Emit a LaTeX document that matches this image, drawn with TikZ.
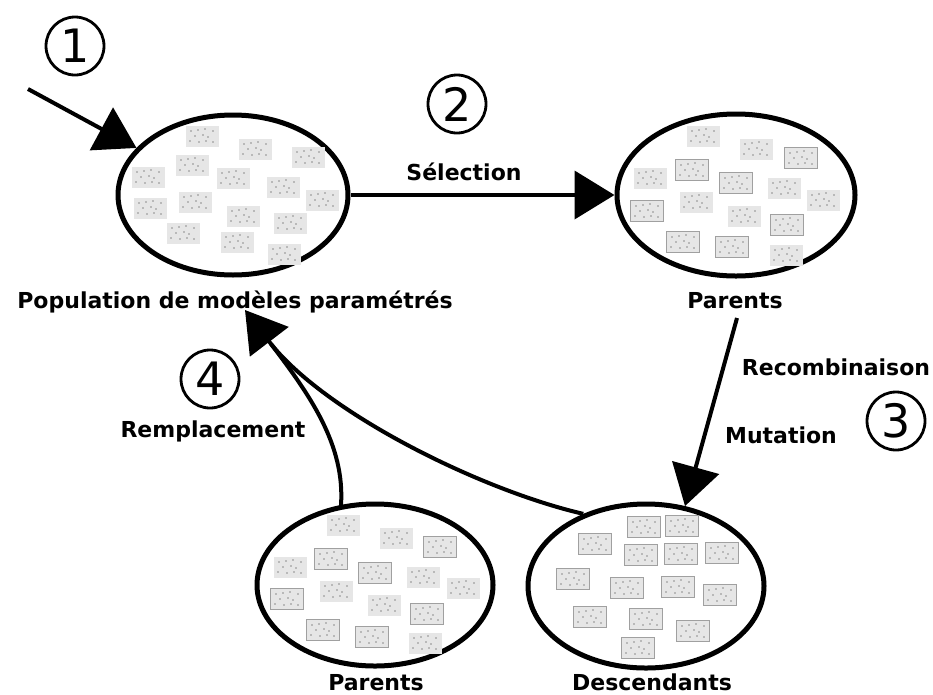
\documentclass[tikz,border=0pt]{standalone}
\usepackage{fontspec}
\setmainfont{DejaVu Sans}
\usetikzlibrary{shapes.geometric,arrows.meta}
\definecolor{cardfill}{HTML}{E6E6E6}
\definecolor{cardline}{HTML}{A0A0A0}
\definecolor{carddot}{HTML}{8C8C8C}
\begin{document}
\begin{tikzpicture}[x=1pt,y=-1pt,
 pool/.style={ellipse, draw, line width=5pt, inner sep=0pt},
 lab/.style={font=\bfseries\fontsize{22}{26}\selectfont, inner sep=0pt, anchor=base},
 numc/.style={circle, draw, line width=2.8pt, minimum size=58pt, inner sep=0pt, font=\fontsize{46}{46}\selectfont},
 flow/.style={line width=4pt, -{Triangle[length=40pt,width=48pt]}},
 plain/.style={line width=4pt},
 carddots/.pic={\foreach \p in {(-11,-5),(-4,-6),(3,-7),(11,-5),(-7,0),(1,-1),(6,1),(-12,5),(-3,6),(4,5),(11,6)} \fill[carddot] \p circle (0.8);},
 card/.pic={\fill[cardfill] (-16.5,-10.5) rectangle (16.5,10.5); \pic {carddots};},
 bcard/.pic={\filldraw[fill=cardfill, draw=cardline, line width=1.8pt] (-16.5,-10.5) rectangle (16.5,10.5); \pic {carddots};}
]
\useasboundingbox (0,0) rectangle (933,694);

% pools
\node[pool, minimum width=230pt, minimum height=160pt] (pop) at (233,195) {};
\node[pool, minimum width=238pt, minimum height=162pt] (par1) at (736,195) {};
\node[pool, minimum width=236pt, minimum height=162pt] (par2) at (375,585) {};
\node[pool, minimum width=236pt, minimum height=164pt] (desc) at (646,586) {};

% population cards
\foreach \c in {(202,136),(255,149),(308,157),(192,165),(148,177),(233,178),(283,187),(195,202),(150,208),(322,200),(243,216),(290,223),(183,233),(237,242),(284,254)}
  \pic at \c {card};

% parents (top right)
\foreach \c in {(703,136),(756,149),(650,178),(784,188),(696,202),(823,200),(744,216),(786,255)}
  \pic at \c {card};
\foreach \c in {(801,158),(692,170),(736,183),(647,211),(787,225),(683,242),(732,247)}
  \pic at \c {bcard};

% parents (bottom left)
\foreach \c in {(343,525),(396,538),(290,567),(423,577),(336,591),(463,588),(384,605),(425,643)}
  \pic at \c {card};
\foreach \c in {(440,547),(331,559),(375,573),(287,599),(427,614),(323,630),(372,637)}
  \pic at \c {bcard};

% descendants
\foreach \c in {(644,527),(682,526),(595,544),(641,555),(681,554),(722,553),(573,579),(627,588),(678,587),(720,595),(590,617),(646,619),(693,631),(638,648)}
  \pic at \c {bcard};

% labels
\node[lab] (poplab) at (235,308) {Population de modèles paramétrés};
\node[lab] (par1lab) at (735,308) {Parents};
\node[lab] (par2lab) at (376,690) {Parents};
\node[lab] (desclab) at (652,690) {Descendants};
\node[lab] (sel) at (464,180) {Sélection};
\node[lab] (rec) at (836,375) {Recombinaison};
\node[lab] (mut) at (781,443) {Mutation};
\node[lab] (rem) at (213,437) {Remplacement};

% step numbers
\node[numc] (n1) at (75,46) {1};
\node[numc] (n2) at (457,104) {2};
\node[numc] (n3) at (896,421) {3};
\node[numc] (n4) at (210,379) {4};

% connectors
\coordinate (start) at (28,89);
\coordinate (tip4) at (245,310);
\coordinate (base4) at (271,344);
\draw[flow] (start) -- (pop.154);
\draw[flow] (pop.east) -- (par1.west);
\draw[flow] (737,318) -- (desc.64);
\draw[flow] (desc.131) .. controls (480,490) and (323,412) .. (tip4);
\draw[plain] (par2.113) .. controls (345,445) and (310,395) .. (base4);
\end{tikzpicture}
\end{document}
